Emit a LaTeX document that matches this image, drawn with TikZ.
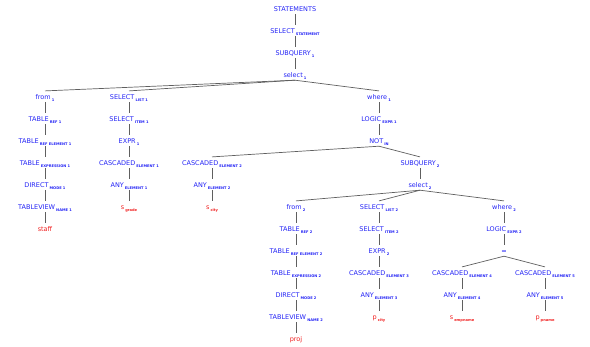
\documentclass[tikz,border=0pt]{standalone}
\usepackage{fontspec}
\setmainfont{DejaVu Sans}
\definecolor{tblue}{RGB}{35,35,245}
\definecolor{tred}{RGB}{240,30,30}
\definecolor{tedge}{RGB}{95,95,95}
\newcommand{\subt}[1]{\hspace{1.1pt}\raisebox{-1.4pt}{\fontsize{3.6}{4}\selectfont\bfseries #1}}
\tikzset{
  tn/.style={anchor=base, inner sep=0pt, text height=8.5pt, text depth=2.4pt,
             font=\fontsize{6.5}{7}\selectfont, text=tblue},
  lf/.style={tn, text=tred},
  edge/.style={draw=tedge, line width=0.7pt}
}
\begin{document}
\begin{tikzpicture}[x=1pt,y=-1pt]
\useasboundingbox (0,0) rectangle (590,346);
% row y (base) = c + 2.6
\node[tn] (st)   at (295,11.6)  {STATEMENTS};
\node[tn] (sel)  at (295,33.6)  {SELECT\subt{STATEMENT}};
\node[tn] (sq1)  at (295,55.6)  {SUBQUERY\subt{1}};
\node[tn] (s1)   at (295,77.6)  {select\subt{1}};
% left branch
\node[tn] (f1)   at (45,99.6)   {from\subt{1}};
\node[tn] (tr1)  at (45,121.6)  {TABLE\subt{REF 1}};
\node[tn] (tre1) at (45,143.6)  {TABLE\subt{REF ELEMENT 1}};
\node[tn] (te1)  at (45,165.6)  {TABLE\subt{EXPRESSION 1}};
\node[tn] (dm1)  at (45,187.6)  {DIRECT\subt{MODE 1}};
\node[tn] (tv1)  at (45,209.6)  {TABLEVIEW\subt{NAME 1}};
\node[lf] (staff) at (45,231.6) {staff};
% select list 1
\node[tn] (sl1)  at (129,99.6)  {SELECT\subt{LIST 1}};
\node[tn] (si1)  at (129,121.6) {SELECT\subt{ITEM 1}};
\node[tn] (ex1)  at (129,143.6) {EXPR\subt{1}};
\node[tn] (ce1)  at (129,165.6) {CASCADED\subt{ELEMENT 1}};
\node[tn] (ae1)  at (129,187.6) {ANY\subt{ELEMENT 1}};
\node[lf] (sg)   at (129,209.6) {s\subt{grade}};
% where 1
\node[tn] (w1)   at (379,99.6)  {where\subt{1}};
\node[tn] (le1)  at (379,121.6) {LOGIC\subt{EXPR 1}};
\node[tn] (not)  at (379,143.6) {NOT\subt{IN}};
\node[tn] (ce2)  at (212,165.6) {CASCADED\subt{ELEMENT 2}};
\node[tn] (ae2)  at (212,187.6) {ANY\subt{ELEMENT 2}};
\node[lf] (sc)   at (212,209.6) {s\subt{city}};
\node[tn] (sq2)  at (420,165.6) {SUBQUERY\subt{2}};
\node[tn] (s2)   at (420,187.6) {select\subt{2}};
% from 2
\node[tn] (f2)   at (296,209.6) {from\subt{2}};
\node[tn] (tr2)  at (296,231.6) {TABLE\subt{REF 2}};
\node[tn] (tre2) at (296,253.6) {TABLE\subt{REF ELEMENT 2}};
\node[tn] (te2)  at (296,275.6) {TABLE\subt{EXPRESSION 2}};
\node[tn] (dm2)  at (296,297.6) {DIRECT\subt{MODE 2}};
\node[tn] (tv2)  at (296,319.6) {TABLEVIEW\subt{NAME 2}};
\node[lf] (proj) at (296,341.6) {proj};
% select list 2
\node[tn] (sl2)  at (379,209.6) {SELECT\subt{LIST 2}};
\node[tn] (si2)  at (379,231.6) {SELECT\subt{ITEM 2}};
\node[tn] (ex2)  at (379,253.6) {EXPR\subt{2}};
\node[tn] (ce3)  at (379,275.6) {CASCADED\subt{ELEMENT 3}};
\node[tn] (ae3)  at (379,297.6) {ANY\subt{ELEMENT 3}};
\node[lf] (pc)   at (379,319.6) {p\subt{city}};
% where 2
\node[tn] (w2)   at (504,209.6) {where\subt{2}};
\node[tn] (le2)  at (504,231.6) {LOGIC\subt{EXPR 2}};
\node[tn] (eq)   at (504,253.6) {=};
\node[tn] (ce4)  at (462,275.6) {CASCADED\subt{ELEMENT 4}};
\node[tn] (ae4)  at (462,297.6) {ANY\subt{ELEMENT 4}};
\node[lf] (se)   at (462,319.6) {s\subt{empname}};
\node[tn] (ce5)  at (545,275.6) {CASCADED\subt{ELEMENT 5}};
\node[tn] (ae5)  at (545,297.6) {ANY\subt{ELEMENT 5}};
\node[lf] (pp)   at (545,319.6) {p\subt{pname}};
% edges
\foreach \a/\b in {st/sel, sel/sq1, sq1/s1,
  s1/f1, s1/sl1, s1/w1,
  f1/tr1, tr1/tre1, tre1/te1, te1/dm1, dm1/tv1, tv1/staff,
  sl1/si1, si1/ex1, ex1/ce1, ce1/ae1, ae1/sg,
  w1/le1, le1/not, not/ce2, not/sq2, ce2/ae2, ae2/sc, sq2/s2,
  s2/f2, s2/sl2, s2/w2,
  f2/tr2, tr2/tre2, tre2/te2, te2/dm2, dm2/tv2, tv2/proj,
  sl2/si2, si2/ex2, ex2/ce3, ce3/ae3, ae3/pc,
  w2/le2, le2/eq, eq/ce4, eq/ce5, ce4/ae4, ae4/se, ce5/ae5, ae5/pp}
  \draw[edge] (\a.south) -- (\b.north);
\end{tikzpicture}
\end{document}
